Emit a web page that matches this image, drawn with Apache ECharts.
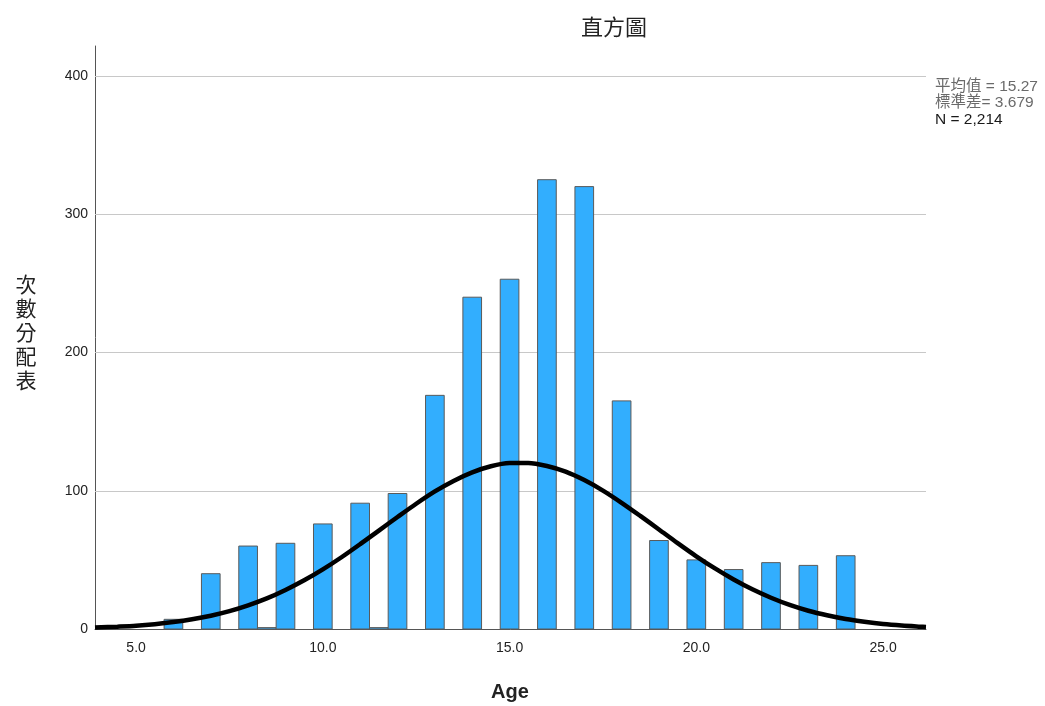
<!DOCTYPE html>
<html>
<head>
<meta charset="utf-8">
<script src="https://cdn.jsdelivr.net/npm/echarts@6/dist/echarts.min.js"></script>
<style>html,body{margin:0;padding:0;background:#fff}#c{width:1045px;height:706px}</style>
</head>
<body>
<div id="c"></div>
<script>
// Histogram bins (bin centre age) and counts
var binAges   = [6, 7, 8, 8.5, 9, 10, 11, 11.5, 12, 13, 14, 15, 16, 17, 18, 19, 20, 21, 22, 23, 24];
var binCounts = [7, 40, 60, 1, 62, 76, 91, 1, 98, 169, 240, 253, 325, 320, 165, 64, 50, 43, 48, 46, 53];
// Normal curve
var curveAges   = [3.9, 4.5, 5, 5.5, 6, 6.5, 7, 7.5, 8, 8.5, 9, 9.5, 10, 10.5, 11, 11.5, 12, 12.5, 13, 13.5, 14, 14.5, 15, 15.5, 16, 16.5, 17, 17.5, 18, 18.5, 19, 19.5, 20, 20.5, 21, 21.5, 22, 22.5, 23, 23.5, 24, 24.5, 25, 25.5, 26, 26.15];
var curveCounts = [1.0, 1.7, 2.4, 3.5, 5.0, 7.0, 9.6, 12.9, 17.1, 22.1, 28.2, 35.2, 43.1, 51.9, 61.4, 71.2, 81.0, 90.6, 99.5, 107.1, 113.3, 117.7, 120.0, 120.1, 117.9, 113.8, 107.7, 100.1, 91.3, 81.8, 72.0, 62.1, 52.6, 43.8, 35.8, 28.7, 22.6, 17.4, 13.2, 9.9, 7.2, 5.2, 3.6, 2.5, 1.7, 1.5];
var yTicks = [100, 200, 300, 400];
var statsLines = ['平均值 = 15.27', '標準差= 3.679', 'N = 2,214'];
var binWidth = 0.5;

var chart = echarts.init(document.getElementById('c'));
var latin = '"Liberation Sans", Arial, "Noto Sans CJK TC", sans-serif';
var cjk = '"Noto Sans CJK TC", "Liberation Sans", sans-serif';

var barData = binAges.map(function (a, i) { return [a, binCounts[i]]; });
var curveData = curveAges.map(function (a, i) { return [a, curveCounts[i]]; });

chart.setOption({
  animation: false,
  backgroundColor: '#ffffff',
  grid: { left: 95, right: 119, top: 46, bottom: 77, containLabel: false },
  xAxis: {
    type: 'value', min: 3.9, max: 26.15, interval: 0.05,
    axisLine: { show: true, lineStyle: { color: '#555', width: 1 } },
    axisTick: { show: false },
    splitLine: { show: false },
    axisLabel: {
      color: '#222', fontSize: 14, fontFamily: latin, margin: 12,
      formatter: function (v) {
        var r = Math.round(v / 5) * 5;
        return Math.abs(v - r) < 1e-6 ? r.toFixed(1) : '';
      }
    }
  },
  yAxis: {
    type: 'value', min: 0, max: 421.7, interval: 100,
    axisLine: { show: true, lineStyle: { color: '#555', width: 1 } },
    axisTick: { show: false },
    splitLine: { show: false },
    axisLabel: {
      color: '#222', fontSize: 14, fontFamily: latin, margin: 7,
      formatter: function (v) {
        var r = Math.round(v / 100) * 100;
        return Math.abs(v - r) < 1e-6 ? String(r) : '';
      }
    }
  },
  series: [
    {
      type: 'custom',
      data: barData,
      z: 3,
      renderItem: function (params, api) {
        var x = api.value(0), y = api.value(1);
        var p0 = api.coord([x - binWidth / 2, y]);
        var p1 = api.coord([x + binWidth / 2, 0]);
        return {
          type: 'rect',
          shape: { x: p0[0], y: p0[1], width: p1[0] - p0[0], height: p1[1] - p0[1] },
          style: { fill: '#32aefe', stroke: '#5a5a5a', lineWidth: 1 }
        };
      }
    },
    {
      type: 'line',
      data: curveData,
      smooth: 0.3,
      showSymbol: false,
      symbol: 'none',
      z: 5,
      lineStyle: { color: '#000', width: 4.5 },
      markLine: {
        silent: true, symbol: 'none', label: { show: false },
        lineStyle: { color: '#c8c8c8', width: 1.2, type: 'solid' },
        z: 1,
        data: yTicks.map(function (t) { return { yAxis: t }; })
      }
    }
  ],
  graphic: [
    { type: 'text', x: 614, y: 27, silent: true,
      style: { text: '直方圖', fill: '#222', font: 'normal 22px ' + cjk, align: 'center', verticalAlign: 'middle' } },
    { type: 'text', x: 26, y: 332, silent: true,
      style: { text: '次\n數\n分\n配\n表', fill: '#222', font: 'normal 21px ' + cjk, lineHeight: 24, align: 'center', verticalAlign: 'middle' } },
    { type: 'text', x: 510, y: 692, silent: true,
      style: { text: 'Age', fill: '#222', font: 'bold 20px ' + latin, align: 'center', verticalAlign: 'middle' } },
    { type: 'text', x: 935, y: 87, silent: true,
      style: { text: statsLines[0], fill: '#6a6a6a', font: 'normal 15.5px ' + latin, verticalAlign: 'middle' } },
    { type: 'text', x: 935, y: 103, silent: true,
      style: { text: statsLines[1], fill: '#6a6a6a', font: 'normal 15.5px ' + latin, verticalAlign: 'middle' } },
    { type: 'text', x: 935, y: 120, silent: true,
      style: { text: statsLines[2], fill: '#1a1a1a', font: 'normal 15.5px ' + latin, verticalAlign: 'middle' } }
  ]
});
</script>
</body>
</html>
